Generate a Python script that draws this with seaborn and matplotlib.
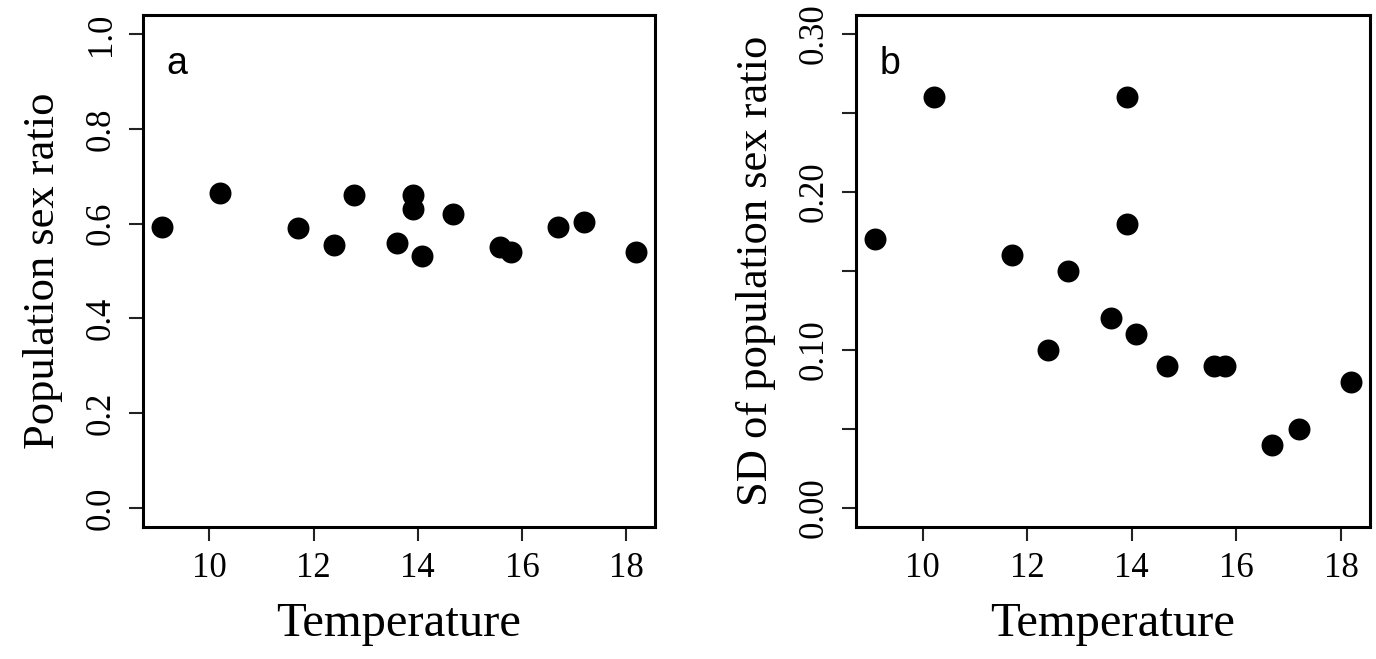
import numpy as np
import pandas as pd
import matplotlib
matplotlib.use("Agg")
import matplotlib.pyplot as plt
import seaborn as sns

# values
temperature = [9.09, 10.21, 11.70, 12.39, 12.78, 13.60, 13.90, 13.90,
               14.08, 14.67, 15.57, 15.79, 16.69, 17.20, 18.19]
sex_ratio = [0.593, 0.665, 0.591, 0.555, 0.660, 0.560, 0.660, 0.630,
             0.531, 0.620, 0.551, 0.540, 0.593, 0.603, 0.540]
sd_sex_ratio = [0.17, 0.26, 0.16, 0.10, 0.15, 0.12, 0.26, 0.18,
                0.11, 0.09, 0.09, 0.09, 0.04, 0.05, 0.08]

ticks_a = [0.0, 0.2, 0.4, 0.6, 0.8, 1.0]
ticklabels_a = ["0.0", "0.2", "0.4", "0.6", "0.8", "1.0"]
ticks_b = [0.0, 0.05, 0.10, 0.15, 0.20, 0.25, 0.30]
ticklabels_b = ["0.00", "", "0.10", "", "0.20", "", "0.30"]
xticks = [10, 12, 14, 16, 18]

df = pd.DataFrame({"Temperature": temperature, "ratio": sex_ratio, "sd": sd_sex_ratio})

sns.set_style("ticks")
plt.rcParams["font.family"] = ["Liberation Serif", "DejaVu Serif"]
plt.rcParams["text.color"] = "black"
plt.rcParams["axes.labelcolor"] = "black"
plt.rcParams["xtick.color"] = "black"
plt.rcParams["ytick.color"] = "black"

fig = plt.figure(figsize=(13.76, 6.59), dpi=100)
ax1 = fig.add_axes([0.1039, 0.2003, 0.3721, 0.7769])
ax2 = fig.add_axes([0.6221, 0.2003, 0.3735, 0.7769])


def style_axis(ax, col, ylabel, yticks, ylabels, ylim, letter):
    sns.scatterplot(data=df, x="Temperature", y=col, ax=ax, color="black",
                    s=250, edgecolor="black", linewidth=0, legend=False)
    span = max(temperature) - min(temperature)
    ax.set_xlim(min(temperature) - 0.04 * span, max(temperature) + 0.04 * span)
    pad = 0.04 * (ylim[1] - ylim[0])
    ax.set_ylim(ylim[0] - pad, ylim[1] + pad)
    ax.set_xticks(xticks)
    ax.set_xticklabels([str(t) for t in xticks], fontsize=25)
    ax.set_yticks(yticks)
    ax.set_yticklabels(ylabels, fontsize=25, rotation=90, va="center")
    ax.tick_params(length=10, width=1.5, color="#222222", pad=8)
    for sp in ax.spines.values():
        sp.set_linewidth(2.2)
        sp.set_color("black")
    ax.set_xlabel("Temperature", fontsize=35, labelpad=12)
    ax.set_ylabel(ylabel, fontsize=32, labelpad=16)
    ax.text(0.045, 0.905, letter, transform=ax.transAxes, fontsize=27,
            family=["Liberation Sans", "DejaVu Sans"], va="center", ha="left")


style_axis(ax1, "ratio", "Population sex ratio", ticks_a, ticklabels_a, (0.0, 1.0), "a")
style_axis(ax2, "sd", "SD of population sex ratio", ticks_b, ticklabels_b, (0.0, 0.30), "b")

fig.savefig("out.png", dpi=100)
